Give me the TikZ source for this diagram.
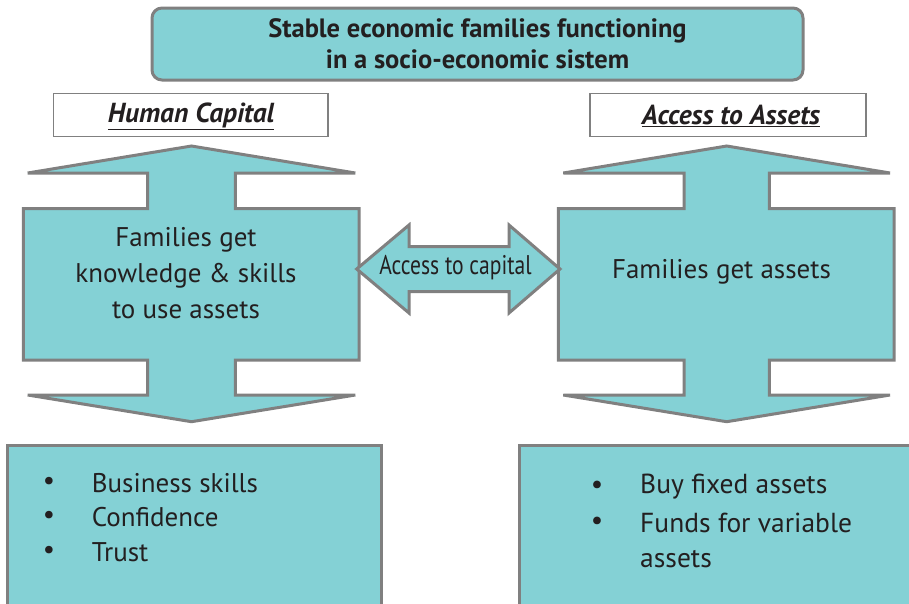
\documentclass[tikz,border=0pt]{standalone}
\usepackage{fontspec}
\setmainfont{PT Sans}
\definecolor{teal1}{RGB}{132,209,213}
\definecolor{edge}{RGB}{128,128,128}
\definecolor{ink}{RGB}{35,31,32}
\begin{document}
\begin{tikzpicture}[x=1pt,y=-1pt,
  shapefill/.style={fill=teal1,draw=edge,line width=3pt,line join=miter},
  labelbox/.style={draw=edge,line width=1.5pt,fill=white},
  txt/.style={text=ink,inner sep=0pt,font=\fontsize{27}{36}\selectfont,align=center},
  bul/.style={text=ink,inner sep=0pt,font=\fontsize{27}{36}\selectfont,anchor=west},
  bulr/.style={text=ink,inner sep=0pt,font=\fontsize{27.5}{36}\selectfont,anchor=west},
]
\useasboundingbox (0,0) rectangle (909,603);
% top box
\draw[shapefill,rounded corners=10pt] (152,8) rectangle (803,80);
\node[txt,font=\fontsize{26.5}{31}\selectfont\bfseries] (goal) at (477.5,44) {Stable economic families functioning\\in a socio-economic sistem};
% label boxes
\draw[labelbox] (53.3,93.3) rectangle (328,136.7);
\node[txt,font=\fontsize{27.5}{30}\selectfont\bfseries\itshape] (hc) at (191,116) {\underline{Human Capital}};
\draw[labelbox] (590,93.3) rectangle (866,136.7);
\node[txt,font=\fontsize{27.5}{30}\selectfont\bfseries\itshape] (aa) at (731,116) {\underline{Access to Assets}};
% left shape
\draw[shapefill] (191.5,146) -- (27.7,173) -- (147.7,173) -- (147.7,208.7) -- (23.3,208.7)
  -- (23.3,360) -- (147.7,360) -- (147.7,395) -- (27.7,395) -- (191.5,421.7)
  -- (355.3,395) -- (235.3,395) -- (235.3,360) -- (359,360) -- (359,208.7)
  -- (235.3,208.7) -- (235.3,173) -- (355.3,173) -- cycle;
% right shape
\draw[shapefill] (726.7,146) -- (563.3,173) -- (684,173) -- (684,208.7) -- (558.3,208.7)
  -- (558.3,360) -- (684,360) -- (684,395) -- (563.3,395) -- (726.7,421.7)
  -- (890,395) -- (769.3,395) -- (769.3,360) -- (894,360) -- (894,208.7)
  -- (769.3,208.7) -- (769.3,173) -- (890,173) -- cycle;
% middle double arrow
\draw[shapefill] (356.7,269) -- (409,225) -- (409,246.7) -- (509,246.7) -- (509,225)
  -- (560,269) -- (509,313) -- (509,291.7) -- (409,291.7) -- (409,313) -- cycle;
\node[txt] (hcbody) at (186,273) {Families get\\knowledge \& skills\\to use assets};
\node[txt] (aabody) at (721.5,272) {Families get assets};
\node[txt] (cap) at (455.5,268) {\scalebox{0.8}[1]{Access to capital}};
% bottom boxes
\draw[shapefill] (7,445) rectangle (381,620);
\draw[shapefill] (519,445) rectangle (925,620);
\node[bul,anchor=center] (b1) at (49,483) {\textbullet};
\node[bul] (t1) at (91.7,483) {Business skills};
\node[bul,anchor=center] (b2) at (49,517.5) {\textbullet};
\node[bul] (t2) at (91.7,517.5) {Confidence};
\node[bul,anchor=center] (b3) at (49,552) {\textbullet};
\node[bul] (t3) at (91.7,552) {Trust};
\node[bulr,anchor=center] (c1) at (597,487) {\textbullet};
\node[bulr] (u1) at (640,487) {Buy fixed assets};
\node[bulr,anchor=center] (c2) at (597,523) {\textbullet};
\node[bulr] (u2) at (640,523) {Funds for variable};
\node[bulr] (u3) at (640,559) {assets};
\end{tikzpicture}
\end{document}
